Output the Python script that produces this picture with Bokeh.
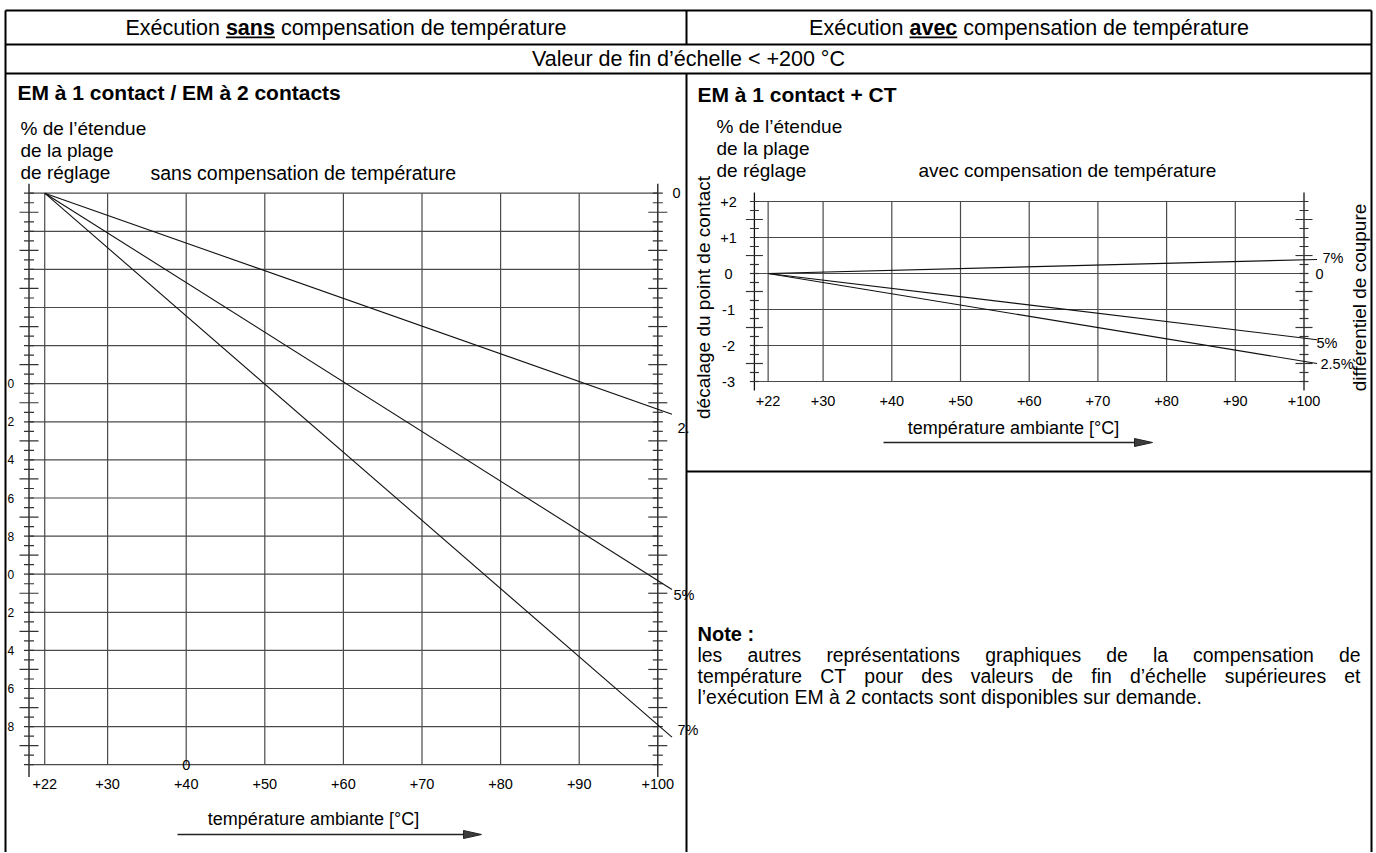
import math
from bokeh.plotting import figure
from bokeh.models import Range1d
from bokeh.core.properties import value
from bokeh.embed import file_html
from bokeh.resources import INLINE

# ------------------------------------------------------------------ data
temp_ticks = [22, 30, 40, 50, 60, 70, 80, 90, 100]
temp_labels = ["+22", "+30", "+40", "+50", "+60", "+70", "+80", "+90", "+100"]

# chart "sans compensation": % de l'étendue, 0 en haut, 30 en bas
left_y_ticks = [0, 2, 4, 6, 8, 10, 12, 14, 16, 18, 20, 22, 24, 26, 28, 30]
left_y_labels = ["0", "2", "4", "6", "8", "10", "12", "14", "16", "18",
                 "20", "22", "24", "26", "28", "30"]
left_temp = [22, 101.8]
left_drift_25 = [0, 11.6]
left_drift_5 = [0, 20.8]
left_drift_7 = [0, 28.55]
left_curve_names = ["0", "2.", "5%", "7%"]

# chart "avec compensation": décalage du point de contact
right_y_ticks = [2, 1, 0, -1, -2, -3]
right_y_labels = ["+2", "+1", "0", "-1", "-2", "-3"]
right_temp = [22, 101.9]
right_drift_7 = [0, 0.39]
right_drift_5 = [0, -1.84]
right_drift_25 = [0, -2.5]
right_curve_names = ["7%", "0", "5%", "2.5%"]

note_lines = [
    "les autres représentations graphiques de la compensation de",
    "température CT pour des valeurs de fin d’échelle supérieures et",
    "l’exécution EM à 2 contacts sont disponibles sur demande.",
]

# ------------------------------------------------------------------ fonts / metrics
SANS = "Liberation Sans"

W = {' ': 278, 'a': 556, 'b': 556, 'c': 500, 'd': 556, 'e': 556, 'f': 278, 'g': 556,
     'h': 556, 'i': 222, 'j': 222, 'k': 500, 'l': 222, 'm': 833, 'n': 556, 'o': 556,
     'p': 556, 'q': 556, 'r': 333, 's': 500, 't': 278, 'u': 556, 'v': 500, 'w': 722,
     'x': 500, 'y': 500, 'z': 500, 'é': 556, 'è': 556, 'à': 556, 'ê': 556, 'E': 667,
     'M': 833, 'C': 722, 'T': 611, 'N': 722, 'V': 667, '’': 222, "'": 191, '.': 278,
     ':': 278, ',': 278, '%': 889, '+': 584, '-': 333, '<': 584, '°': 400, '[': 278,
     ']': 278, '/': 278}
WB = {' ': 278, 'a': 556, 'c': 556, 'e': 556, 'n': 611, 'o': 611, 's': 556, 't': 333,
      'v': 556, 'à': 556, 'E': 667, 'M': 833, 'C': 722, 'T': 611, 'N': 722, '/': 278,
      '+': 584, ':': 333}


def tw(s, size, bold=False):
    tab = WB if bold else W
    return sum(tab.get(c, 556) for c in s) * size / 1000.0


# ------------------------------------------------------------------ figure
PW, PH = 1374, 852
p = figure(width=PW, height=PH, x_range=Range1d(0, PW), y_range=Range1d(PH, 0),
           x_axis_type=None, y_axis_type=None, toolbar_location=None,
           output_backend="svg", min_border=0, outline_line_color=None,
           background_fill_color="white", border_fill_color="white")

# chart scales: page_px = a + k * value
LX_A, LX_K = -128.7, 7.86
LY_A, LY_K = 192.7, 19.05
RX_A, RX_K = 616.5, 6.87
RY_A, RY_K = 273.0, -36.0


def rng(p0, p1, a, k):
    return Range1d(start=(p0 - a) / k, end=(p1 - a) / k)


p.extra_x_ranges = {"lx": rng(0, PW, LX_A, LX_K), "rx": rng(0, PW, RX_A, RX_K)}
p.extra_y_ranges = {"ly": rng(PH, 0, LY_A, LY_K), "ry": rng(PH, 0, RY_A, RY_K)}


def lxv(px): return (px - LX_A) / LX_K
def lyv(py): return (py - LY_A) / LY_K
def rxv(px): return (px - RX_A) / RX_K
def ryv(py): return (py - RY_A) / RY_K


def seg(x0, y0, x1, y1, color="black", width=1.0, xr="default", yr="default"):
    p.segment(x0=x0, y0=y0, x1=x1, y1=y1, line_color=color, line_width=width,
              x_range_name=xr, y_range_name=yr)


def txt(xs, ys, texts, size, bold=False, align="left", font=SANS, xr="default",
        yr="default", angle=0.0, color="black"):
    p.text(x=xs, y=ys, text=texts, text_font=value(font), text_font_size=f"{size}px",
           text_font_style="bold" if bold else "normal", text_align=align,
           text_baseline="middle", text_color=color, angle=angle,
           x_range_name=xr, y_range_name=yr)


def mixed(cx, cy, parts, size):
    total = sum(tw(s, size, b) for s, b in parts)
    x = cx - total / 2
    for s, b in parts:
        w = tw(s, size, b)
        lead = tw(s[:len(s) - len(s.lstrip())], size, b)
        txt([x + lead], [cy], [s.strip()], size, bold=b)
        if b:
            seg([x + lead], [cy + 0.46 * size], [x + w], [cy + 0.46 * size], width=1.8)
        x += w


def arrow(x0, x1, y, head=18, half=4):
    seg([x0], [y], [x1 - head], [y], color="#222222", width=1.4)
    p.patch(x=[x1 - head, x1, x1 - head], y=[y - half, y, y + half],
            fill_color="#3c3c3c", line_color="#222222", line_width=1)


# ------------------------------------------------------------------ table
BL, BR, BT, BB, MID, SPLIT = 5, 1371, 10, PH, 686, 471
seg([BL, BL, BL, MID], [BT, 44, 73, SPLIT], [BR, BR, BR, BR], [BT, 44, 73, SPLIT], width=2)
seg([BL, BR, MID, MID], [BT, BT, BT, 73], [BL, BR, MID, MID], [BB, BB, 44, BB], width=2)

HS = 21.5
mixed((BL + MID) / 2, 27, [("Exécution ", False), ("sans", True),
                           (" compensation de température", False)], HS)
mixed((MID + BR) / 2, 27, [("Exécution ", False), ("avec", True),
                           (" compensation de température", False)], HS)
txt([(BL + BR) / 2], [58.5], ["Valeur de fin d’échelle < +200 °C"], HS, align="center")

# ------------------------------------------------------------------ left chart
GRID = "#4a4a4a"
AS = 19  # annotation size
LXMIN, LXMAX = 20, 100
txt([17], [92], ["EM à 1 contact / EM à 2 contacts"], 21, bold=True)
txt([20, 20, 20], [128, 150, 172], ["% de l’étendue", "de la plage", "de réglage"], AS)
txt([150], [172], ["sans compensation de température"], AS + 0.5)

seg(temp_ticks[:-1], [left_y_ticks[0]] * 8, temp_ticks[:-1], [left_y_ticks[-1]] * 8,
    color=GRID, width=1.2, xr="lx", yr="ly")
seg([LXMIN] * len(left_y_ticks), left_y_ticks, [LXMAX] * len(left_y_ticks), left_y_ticks,
    color=GRID, width=1.2, xr="lx", yr="ly")
seg([LXMIN, LXMAX], [-0.5, -0.5], [LXMIN, LXMAX], [30.65, 30.65], color="#111111",
    width=1.3, xr="lx", yr="ly")
tx0, ty, tx1 = [], [], []
for k in range(0, 61):
    u = k * 0.5
    half = 1.21 if (u == int(u) and int(u) % 2 == 1) else 0.64
    for ax in (LXMIN, LXMAX):
        tx0.append(ax - half); tx1.append(ax + half); ty.append(u)
seg(tx0, ty, tx1, ty, color="#333333", width=1.2, xr="lx", yr="ly")

TS = 14.5
txt(temp_ticks, [31.0] * len(temp_ticks), temp_labels, TS, align="center",
    xr="lx", yr="ly")
# left scale: only the last digit of the two-digit values remains visible at the cell edge
vis = [i for i, s in enumerate(left_y_labels) if len(s) == 2 and left_y_ticks[i] < 30]
txt([lxv(7)] * len(vis), [left_y_ticks[i] for i in vis], [left_y_labels[i][-1] for i in vis],
    12, xr="lx", yr="ly")
txt([40], [30], ["0"], TS, align="center", xr="lx", yr="ly")

for ys in (left_drift_25, left_drift_5, left_drift_7):
    p.line(left_temp, ys, line_color="#111111", line_width=1.1,
           x_range_name="lx", y_range_name="ly")
txt([lxv(672), lxv(677), lxv(673), lxv(677)], [0, lyv(427), lyv(594), lyv(729)],
    left_curve_names, TS, xr="lx", yr="ly")

txt([313], [818], ["température ambiante [°C]"], 18, align="center")
arrow(177, 481, 834)

# ------------------------------------------------------------------ right chart
txt([697], [94], ["EM à 1 contact + CT"], 21, bold=True)
txt([716, 716, 716], [126, 148, 170], ["% de l’étendue", "de la plage", "de réglage"], AS)
txt([918], [170], ["avec compensation de température"], AS)
txt([703], [297], ["décalage du point de contact"], 19, align="center", angle=math.pi / 2)
txt([1359], [297], ["différentiel de coupure"], 19, align="center", angle=math.pi / 2)

RXMIN, RXMAX = 20, 100
seg(temp_ticks[:-1], [right_y_ticks[-1]] * 8, temp_ticks[:-1], [right_y_ticks[0]] * 8,
    color=GRID, width=1.2, xr="rx", yr="ry")
seg([RXMIN] * len(right_y_ticks), right_y_ticks, [RXMAX] * len(right_y_ticks), right_y_ticks,
    color=GRID, width=1.2, xr="rx", yr="ry")
seg([RXMIN, RXMAX], [-3.25, -3.25], [RXMIN, RXMAX], [2.25, 2.25], color="#111111",
    width=1.3, xr="rx", yr="ry")
tx0, ty, tx1 = [], [], []
for k in range(0, 21):
    u = -3 + k * 0.25
    half = 1.24 if abs(u - math.floor(u) - 0.5) < 1e-9 else 0.655
    for ax in (RXMIN, RXMAX):
        tx0.append(ax - half); tx1.append(ax + half); ty.append(u)
seg(tx0, ty, tx1, ty, color="#333333", width=1.2, xr="rx", yr="ry")

txt(temp_ticks, [ryv(400)] * len(temp_ticks), temp_labels, TS, align="center",
    xr="rx", yr="ry")
txt([rxv(728)] * 6, right_y_ticks, right_y_labels, TS, align="center", xr="rx", yr="ry")

for ys in (right_drift_7, right_drift_5, right_drift_25):
    p.line(right_temp, ys, line_color="#111111", line_width=1.1,
           x_range_name="rx", y_range_name="ry")
txt([rxv(1322), rxv(1315), rxv(1316), rxv(1320)], [ryv(257), 0, ryv(342), ryv(363)],
    right_curve_names, TS, xr="rx", yr="ry")

txt([1013], [427], ["température ambiante [°C]"], 18, align="center")
arrow(883, 1152, 442)

# ------------------------------------------------------------------ note
NS = 19.4
txt([697], [633], ["Note :"], 20, bold=True)
NX0, NX1 = 697, 1360
for i, line in enumerate(note_lines):
    y = 654 + i * 21
    words = line.split()
    if i < len(note_lines) - 1:
        ws = [tw(w, NS) for w in words]
        gap = (NX1 - NX0 - sum(ws)) / (len(words) - 1)
        xs, x = [], NX0
        for w in ws:
            xs.append(x)
            x += w + gap
        txt(xs, [y] * len(words), words, NS)
    else:
        txt([NX0], [y], [line], NS)

open("out.html", "w").write(file_html(p, INLINE))
